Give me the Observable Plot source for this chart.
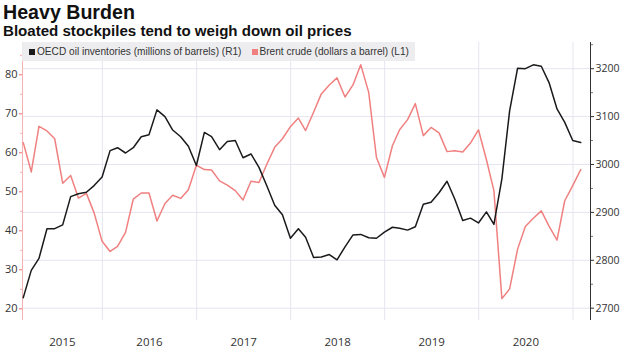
<!DOCTYPE html>
<html>
<head>
<meta charset="utf-8">
<script src="https://cdn.jsdelivr.net/npm/d3@7"></script>
<script src="https://cdn.jsdelivr.net/npm/@observablehq/plot@0.6"></script>
<style>
  body { margin: 0; background: #fff; }
  #wrap { position: relative; width: 620px; height: 351px; overflow: hidden; font-family: "Liberation Sans", Arial, sans-serif; }
  #head { position: relative; height: 40px; }
  #title { position: absolute; left: 3px; top: 1px; font-size: 19.5px; line-height: 22px; font-weight: bold; color: #111; white-space: nowrap; }
  #subtitle { position: absolute; left: 3px; top: 23px; font-size: 13.5px; line-height: 16px; font-weight: bold; color: #111; white-space: nowrap; }
  #legend { position: absolute; left: 22px; top: 42px; width: 393px; height: 19px; background: rgba(236,236,238,0.95); }
  #legtext { position: absolute; left: 7px; top: 0; font-family: "Liberation Sans Narrow", "Arial Narrow", "Liberation Sans", sans-serif;
             font-size: 10px; line-height: 19px; color: #333; white-space: nowrap; }
  #legtext span.sw { display: inline-block; width: 6px; height: 6px; margin: 0 2px 0 0; vertical-align: 0px; }
  #legtext span.item + span.item { margin-left: 10px; }
  svg { display: block; }
</style>
</head>
<body>
<div id="wrap">
  <div id="head">
    <div id="title"></div>
    <div id="subtitle"></div>
  </div>
  <div id="chart"></div>
  <div id="legend"><div id="legtext"></div></div>
</div>
<script>
// ---- data ----
const titleText = "Heavy Burden";
const subtitleText = "Bloated stockpiles tend to weigh down oil prices";
const seriesNames = ["OECD oil inventories (millions of barrels) (R1)", "Brent crude (dollars a barrel) (L1)"];
const seriesColors = ["#1a1a1a", "#f08080"];

// monthly, month-end, Feb 2015 .. Jan 2021
const firstMonth = [2015, 2]; // year, month (1-based) of first point
const brent = [
  62.6, 55.1, 66.8, 65.6, 63.6, 52.2, 54.2, 48.4, 49.6, 44.6, 37.3,
  34.7, 36.0, 39.6, 48.1, 49.7, 49.7, 42.5, 47.0, 49.1, 48.3, 50.5, 56.8,
  55.7, 55.6, 52.8, 51.7, 50.3, 47.9, 52.7, 52.4, 57.0, 61.4, 63.6, 66.7,
  68.9, 65.7, 70.4, 75.1, 77.4, 79.2, 74.3, 77.4, 82.6, 75.5, 58.8, 53.7,
  61.8, 65.9, 68.5, 72.6, 64.4, 66.5, 65.1, 60.3, 60.5, 60.2, 62.5, 65.9,
  58.2, 50.3, 22.6, 25.1, 35.3, 41.1, 43.2, 45.1, 41.2, 37.6, 47.7, 51.6,
  55.7
];
const oecd = [
  2722, 2779, 2804, 2866, 2866, 2874, 2933, 2939, 2942, 2956, 2974,
  3029, 3035, 3024, 3035, 3058, 3062, 3114, 3100, 3072, 3058, 3038, 2998,
  3067, 3058, 3031, 3048, 3050, 3014, 3022, 2994, 2956, 2915, 2895, 2846,
  2866, 2848, 2806, 2807, 2812, 2801, 2828, 2853, 2854, 2847, 2846, 2859,
  2869, 2867, 2863, 2870, 2917, 2921, 2941, 2965, 2928, 2883, 2888, 2878,
  2901, 2875, 2970, 3112, 3201, 3200, 3208, 3205, 3171, 3116, 3088, 3050,
  3046
];
const leftTicks = [20, 30, 40, 50, 60, 70, 80];
const leftMinor = [25, 35, 45, 55, 65, 75, 85];
const rightTicks = [2700, 2800, 2900, 3000, 3100, 3200];
const rightMinor = [2750, 2850, 2950, 3050, 3150, 3250];
const years = [2015, 2016, 2017, 2018, 2019, 2020];

// ---- setup ----
document.getElementById("title").textContent = titleText;
document.getElementById("subtitle").textContent = subtitleText;
const leg = document.getElementById("legtext");
seriesNames.forEach((n, i) => {
  const it = document.createElement("span");
  it.className = "item";
  const sw = document.createElement("span");
  sw.className = "sw";
  sw.style.background = seriesColors[i];
  it.appendChild(sw);
  it.appendChild(document.createTextNode(n));
  leg.appendChild(it);
});

// fit a text block to a target width (font-independent layout)
function fitWidth(el, target) {
  const fs = parseFloat(getComputedStyle(el).fontSize);
  const w = el.getBoundingClientRect().width;
  if (w > 0) el.style.fontSize = (fs * target / w) + "px";
}
fitWidth(document.getElementById("title"), 132);
fitWidth(document.getElementById("subtitle"), 349);
fitWidth(leg, 381);

const dates = oecd.map((_, i) => new Date(Date.UTC(firstMonth[0], firstMonth[1] + i, 0)));
const xDomain = [new Date(Date.UTC(2015, 1, 25)), new Date(Date.UTC(2021, 2, 10))];
const yearStarts = years.slice(1).concat([2021]).map(y => new Date(Date.UTC(y, 0, 1)));
const labelDates = years.map(y => {
  const a = Math.max(+new Date(Date.UTC(y, 0, 1)), +xDomain[0]);
  const b = Math.min(+new Date(Date.UTC(y + 1, 0, 1)), +xDomain[1]);
  return new Date((a + b) / 2);
});

// right axis (R1) mapped onto the left (L1) scale
const toL = r => 20.154 + (r - 2700) * 0.12282;
const fromL = l => String(Math.round((l - 20.154) / 0.12282 + 2700));

const grid = "#e6e4ee";
const font = "'Open Sans', 'Liberation Sans', sans-serif";

const chart = Plot.plot({
  width: 620,
  height: 311,
  marginTop: 2,
  marginBottom: 31,
  marginLeft: 22,
  marginRight: 30,
  x: { type: "utc", domain: xDomain },
  y: { domain: [17.0, 88.28] },
  style: { fontFamily: font, fontSize: "11px", color: "#333", background: "#fff" },
  marks: [
    Plot.ruleY(rightTicks.map(toL), { stroke: grid, strokeWidth: 1 }),
    Plot.ruleX(yearStarts, { stroke: grid, strokeWidth: 1 }),
    Plot.ruleX([xDomain[0]], { stroke: "#f5b0b0", strokeWidth: 1 }),
    Plot.ruleX([xDomain[1]], { stroke: "#333", strokeWidth: 1 }),
    Plot.axisY(leftTicks, { anchor: "left", tickSize: 3, tickPadding: 2, stroke: "#ee6f6f", fill: "#333", label: null }),
    Plot.axisY(leftMinor, { anchor: "left", tickSize: 2, stroke: "#f5b0b0", tickFormat: () => "", label: null }),
    Plot.axisY(rightTicks.map(toL), { anchor: "right", tickSize: 3, tickPadding: 2, stroke: "#333", fill: "#333", tickFormat: fromL, fontSize: 10.5, label: null }),
    Plot.axisY(rightMinor.map(toL), { anchor: "right", tickSize: 2, stroke: "#777", tickFormat: () => "", label: null }),
    Plot.axisX(labelDates, { tickSize: 0, tickPadding: 17, tickFormat: d => String(d.getUTCFullYear()), fill: "#333", fontSize: 11.5, label: null }),
    Plot.line(dates, { x: d => d, y: (d, i) => brent[i], stroke: seriesColors[1], strokeWidth: 1.5 }),
    Plot.line(dates, { x: d => d, y: (d, i) => toL(oecd[i]), stroke: seriesColors[0], strokeWidth: 1.5 })
  ]
});
document.getElementById("chart").appendChild(chart);
</script>
</body>
</html>
